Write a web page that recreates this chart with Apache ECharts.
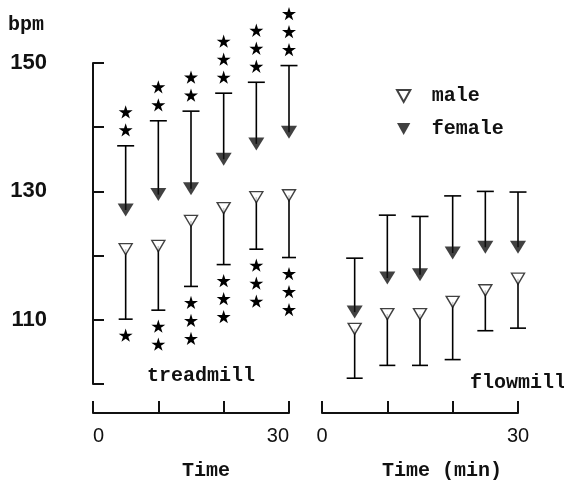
<!DOCTYPE html>
<html>
<head>
<meta charset="utf-8">
<script src="https://cdn.jsdelivr.net/npm/echarts@6/dist/echarts.min.js"></script>
<style>
  html, body { margin: 0; padding: 0; background: #fff; }
  #main { width: 564px; height: 480px; }
</style>
</head>
<body>
<div id="main"></div>
<script>
// measurement times (min)
var times = [5, 10, 15, 20, 25, 30];

// treadmill: heart rate mean and end of the error bar
var treadMaleMean = [121.0, 121.5, 125.4, 127.4, 129.1, 129.4];
var treadMaleLow = [110.1, 111.5, 115.2, 118.6, 121.0, 119.7];
var treadFemaleMean = [127.1, 129.5, 130.4, 135.0, 137.4, 139.2];
var treadFemaleHigh = [137.1, 141.0, 142.5, 145.3, 147.0, 149.6];
// number of significance stars
var treadMaleStars = [1, 2, 3, 3, 3, 3];
var treadFemaleStars = [2, 2, 2, 3, 3, 3];

// flowmill
var flowMaleMean = [108.6, 110.9, 110.9, 112.8, 114.6, 116.4];
var flowMaleLow = [100.9, 102.9, 102.9, 103.8, 108.3, 108.7];
var flowFemaleMean = [111.2, 116.5, 117.0, 120.4, 121.3, 121.3];
var flowFemaleHigh = [119.6, 126.3, 126.1, 129.3, 130.0, 129.9];
var flowMaleStars = [0, 0, 0, 0, 0, 0];
var flowFemaleStars = [0, 0, 0, 0, 0, 0];

// tick labels
var yLabels = [110, 130, 150];
var xLabels = [0, 30];

var MONO = '"Liberation Mono", monospace';
var SANS = '"Liberation Sans", Arial, sans-serif';
var DOWN_TRI = 'path://M0,0L10,0L5,9Z';
var STAR = 'M50,0L61,35L98,35L68,57L79,91L50,70L21,91L32,57L2,35L39,35Z';

function pairs(a, b) {
    return a.map(function (v, i) { return [a[i], b[i]]; });
}
function rows(t, mean, end, stars) {
    return t.map(function (v, i) { return [t[i], mean[i], end[i], stars[i]]; });
}

// error bar + stars; dir -1 = stars above the cap, +1 = below
function barRenderer(dir, capW) {
    return function (params, api) {
        var p0 = api.coord([api.value(0), api.value(1)]);
        var p1 = api.coord([api.value(0), api.value(2)]);
        var n = api.value(3);
        var kids = [
            { type: 'line', shape: { x1: p0[0], y1: p0[1], x2: p1[0], y2: p1[1] },
              style: { stroke: '#000', lineWidth: 1.6 } },
            { type: 'line', shape: { x1: p1[0] - capW / 2, y1: p1[1], x2: p1[0] + capW / 2, y2: p1[1] },
              style: { stroke: '#000', lineWidth: 1.6 } }
        ];
        for (var i = 0; i < n; i++) {
            var cy = p1[1] + dir * (16 + i * 18);
            kids.push({
                type: 'path',
                shape: { pathData: STAR, x: p1[0] - 7, y: cy - 7, width: 14, height: 14, layout: 'center' },
                style: { fill: '#000' }
            });
        }
        return { type: 'group', children: kids };
    };
}

var div = document.getElementById('main');
var myChart = echarts.init(div, null, { renderer: 'canvas' });

function xAxisFor(gridIndex, name, padLeft, alignEnds) {
    return {
        gridIndex: gridIndex,
        type: 'value',
        min: 0, max: 30, interval: 10,
        offset: 29,
        name: name,
        nameLocation: 'middle',
        nameGap: 48,
        nameTextStyle: { fontFamily: MONO, fontWeight: 'bold', fontSize: 20, color: '#111', padding: [0, 0, 0, padLeft] },
        axisLine: { lineStyle: { color: '#111', width: 2 } },
        axisTick: { inside: true, length: 12, lineStyle: { color: '#111', width: 2 } },
        axisLabel: {
            margin: 13, fontFamily: SANS, fontSize: 20, color: '#111',
            alignMinLabel: alignEnds ? 'left' : 'center',
            alignMaxLabel: alignEnds ? 'right' : 'center',
            formatter: function (v) { return xLabels.indexOf(v) >= 0 ? String(v) : ''; }
        },
        splitLine: { show: false }
    };
}

var option = {
    animation: false,
    backgroundColor: '#fff',
    grid: [
        { left: 93, right: 275, top: 63, bottom: 96, outerBoundsMode: 'none' },
        { left: 322, right: 46, top: 63, bottom: 96, outerBoundsMode: 'none' }
    ],
    xAxis: [
        xAxisFor(0, 'Time', 30, true),
        xAxisFor(1, 'Time (min)', 44, false)
    ],
    yAxis: [
        {
            gridIndex: 0, type: 'value', min: 100, max: 150, interval: 10,
            offset: 31,
            axisLine: { show: true, lineStyle: { color: '#111', width: 2 } },
            axisTick: { show: true, inside: true, length: 11, lineStyle: { color: '#111', width: 2 } },
            axisLabel: {
                margin: 15, fontFamily: SANS, fontWeight: 'bold', fontSize: 22, color: '#111',
                formatter: function (v) { return yLabels.indexOf(v) >= 0 ? String(v) : ''; }
            },
            splitLine: { show: false }
        },
        { gridIndex: 1, type: 'value', min: 100, max: 150, show: false }
    ],
    legend: {
        data: ['male', 'female'],
        orient: 'vertical',
        left: 391, top: 81,
        itemWidth: 14, itemHeight: 12,
        itemGap: 13,
        textStyle: { fontFamily: MONO, fontWeight: 'bold', fontSize: 20, color: '#111', padding: [0, 0, 0, 16] }
    },
    graphic: [
        { type: 'text', left: 8, top: 15, style: { text: 'bpm', font: 'bold 20px ' + MONO, fill: '#111' } },
        { type: 'text', left: 147, top: 366, style: { text: 'treadmill', font: 'bold 20px ' + MONO, fill: '#111' } },
        { type: 'text', left: 470, top: 373, style: { text: 'flowmill', font: 'bold 20px ' + MONO, fill: '#111' } }
    ],
    series: [
        // markers
        { name: 'male', type: 'scatter', xAxisIndex: 0, yAxisIndex: 0, z: 5,
          symbol: DOWN_TRI, symbolSize: [13, 11],
          itemStyle: { color: '#fff', borderColor: '#111', borderWidth: 1.4 },
          data: pairs(times, treadMaleMean) },
        { name: 'female', type: 'scatter', xAxisIndex: 0, yAxisIndex: 0, z: 5,
          symbol: DOWN_TRI, symbolSize: [16, 13],
          itemStyle: { color: '#111' },
          data: pairs(times, treadFemaleMean) },
        { name: 'male', type: 'scatter', xAxisIndex: 1, yAxisIndex: 1, z: 5,
          symbol: DOWN_TRI, symbolSize: [13, 11],
          itemStyle: { color: '#fff', borderColor: '#111', borderWidth: 1.4 },
          data: pairs(times, flowMaleMean) },
        { name: 'female', type: 'scatter', xAxisIndex: 1, yAxisIndex: 1, z: 5,
          symbol: DOWN_TRI, symbolSize: [16, 13],
          itemStyle: { color: '#111' },
          data: pairs(times, flowFemaleMean) },
        // error bars and stars
        { name: 'male SD treadmill', type: 'custom', xAxisIndex: 0, yAxisIndex: 0, clip: false, z: 2,
          renderItem: barRenderer(1, 14), encode: { x: 0, y: [1, 2] },
          data: rows(times, treadMaleMean, treadMaleLow, treadMaleStars) },
        { name: 'female SD treadmill', type: 'custom', xAxisIndex: 0, yAxisIndex: 0, clip: false, z: 2,
          renderItem: barRenderer(-1, 17), encode: { x: 0, y: [1, 2] },
          data: rows(times, treadFemaleMean, treadFemaleHigh, treadFemaleStars) },
        { name: 'male SD flowmill', type: 'custom', xAxisIndex: 1, yAxisIndex: 1, clip: false, z: 2,
          renderItem: barRenderer(1, 16), encode: { x: 0, y: [1, 2] },
          data: rows(times, flowMaleMean, flowMaleLow, flowMaleStars) },
        { name: 'female SD flowmill', type: 'custom', xAxisIndex: 1, yAxisIndex: 1, clip: false, z: 2,
          renderItem: barRenderer(-1, 17), encode: { x: 0, y: [1, 2] },
          data: rows(times, flowFemaleMean, flowFemaleHigh, flowFemaleStars) }
    ]
};

myChart.setOption(option);
</script>
</body>
</html>
